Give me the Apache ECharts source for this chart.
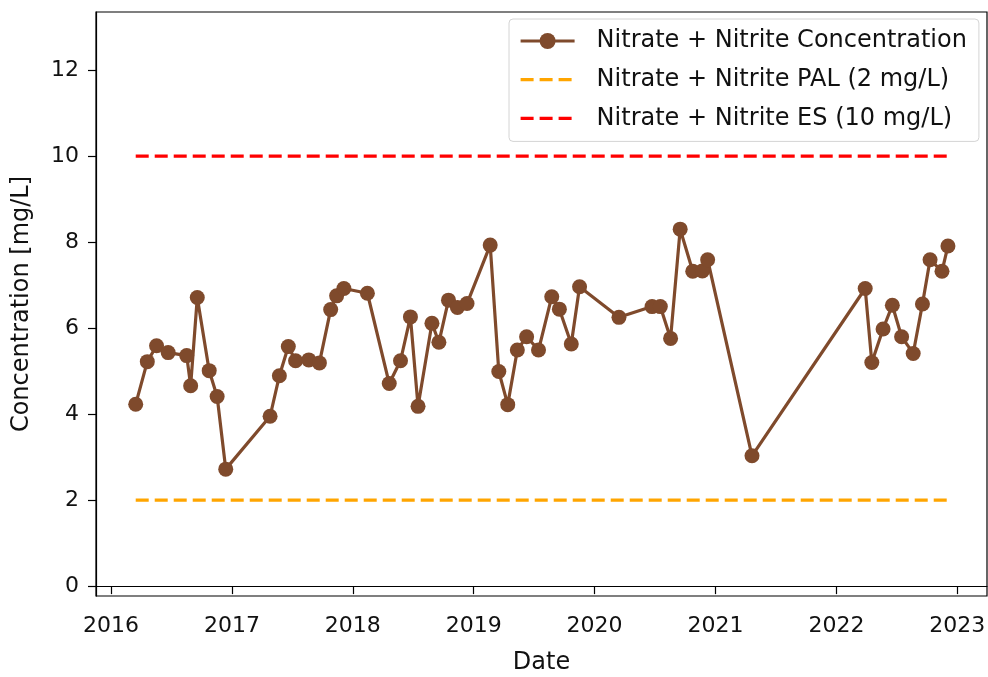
<!DOCTYPE html>
<html lang="en" style="height: 100%">
<head>
  <meta charset="utf-8">
</head>
<body style="height: 100%; margin: 0">
  <div id="container" style="width: 988px; height: 677px"></div>
  <script type="text/javascript" src="https://cdn.jsdelivr.net/npm/echarts@6/dist/echarts.min.js"></script>
  <script type="text/javascript">
    // sample dates and measured nitrate + nitrite (mg/L)
    var dates = [
      '2016-03-16', '2016-04-20', '2016-05-18', '2016-06-22', '2016-08-17', '2016-08-29',
      '2016-09-18', '2016-10-24', '2016-11-17', '2016-12-13', '2017-04-26', '2017-05-24',
      '2017-06-20', '2017-07-12', '2017-08-21', '2017-09-22', '2017-10-26', '2017-11-13',
      '2017-12-05', '2018-02-14', '2018-04-21', '2018-05-25', '2018-06-24', '2018-07-17',
      '2018-08-28', '2018-09-18', '2018-10-17', '2018-11-13', '2018-12-12', '2019-02-20',
      '2019-03-18', '2019-04-14', '2019-05-13', '2019-06-10', '2019-07-16', '2019-08-25',
      '2019-09-17', '2019-10-23', '2019-11-17', '2020-03-15', '2020-06-23', '2020-07-18',
      '2020-08-18', '2020-09-16', '2020-10-24', '2020-11-22', '2020-12-08', '2021-04-21',
      '2022-03-29', '2022-04-18', '2022-05-22', '2022-06-19', '2022-07-17', '2022-08-21',
      '2022-09-18', '2022-10-11', '2022-11-16', '2022-12-04'
    ];
    var concentration = [
      4.23, 5.22, 5.59, 5.43, 5.36, 4.66,
      6.71, 5.01, 4.41, 2.72, 3.95, 4.89,
      5.57, 5.24, 5.26, 5.19, 6.43, 6.75,
      6.92, 6.81, 4.71, 5.24, 6.26, 4.18,
      6.11, 5.67, 6.65, 6.48, 6.57, 7.93,
      4.99, 4.22, 5.49, 5.80, 5.49, 6.73,
      6.44, 5.63, 6.96, 6.25, 6.50, 6.50,
      5.76, 8.30, 7.32, 7.33, 7.59, 3.03,
      6.92, 5.20, 5.98, 6.53, 5.80, 5.41,
      6.56, 7.59, 7.32, 7.91
    ];
    var palLimit = 2;
    var esLimit = 10;
    var yTicks = [0, 2, 4, 6, 8, 10, 12];
    var seriesNames = [
      'Nitrate + Nitrite Concentration',
      'Nitrate + Nitrite PAL (2 mg/L)',
      'Nitrate + Nitrite ES (10 mg/L)'
    ];

    var font = 'DejaVu Sans';
    var brown = '#7f4a2c';
    var dom = document.getElementById('container');
    var myChart = echarts.init(dom, null, { renderer: 'canvas' });

    var first = dates[0];
    var last = dates[dates.length - 1];
    var YEAR = 365.25 * 24 * 3600 * 1000;
    var dash = [13, 6];

    var option = {
      animation: false,
      backgroundColor: '#fff',
      textStyle: { fontFamily: font },
      grid: {
        left: 96, right: 1, top: 12, bottom: 81,
        outerBoundsMode: 'none',
        containLabel: false,
        show: true, borderColor: '#000', borderWidth: 1.2,
        backgroundColor: 'transparent'
      },
      legend: {
        orient: 'vertical',
        left: 509, top: 19,
        padding: [10, 12, 11, 10],
        itemGap: 14.7,
        itemWidth: 54,
        itemHeight: 20,
        backgroundColor: '#fff',
        borderColor: '#d4d4d4',
        borderWidth: 1,
        borderRadius: 4,
        textStyle: { fontFamily: font, fontSize: 24, lineHeight: 24, color: '#111', padding: [0, 0, 0, 17] },
        data: [
          { name: seriesNames[0], lineStyle: { width: 3.2 } },
          { name: seriesNames[1], itemStyle: { opacity: 0 }, lineStyle: { width: 3.2, type: dash } },
          { name: seriesNames[2], itemStyle: { opacity: 0 }, lineStyle: { width: 3.2, type: dash } }
        ]
      },
      xAxis: {
        type: 'time',
        min: '2015-11-17',
        max: '2023-04-01',
        minInterval: YEAR,
        maxInterval: YEAR,
        name: 'Date',
        nameLocation: 'middle',
        nameGap: 55,
        nameTextStyle: { fontFamily: font, fontSize: 24, color: '#111', verticalAlign: 'top' },
        axisLine: { lineStyle: { color: '#000', width: 1.2 } },
        axisTick: { show: true, length: 8, lineStyle: { color: '#000', width: 1.2 } },
        axisLabel: {
          fontFamily: font, fontSize: 22, color: '#111', margin: 19,
          formatter: function (v) { return String(new Date(v).getFullYear()); }
        },
        splitLine: { show: false }
      },
      yAxis: {
        type: 'value',
        min: -0.23,
        max: 13.35,
        name: 'Concentration [mg/L]',
        nameLocation: 'middle',
        nameGap: 62,
        nameTextStyle: { fontFamily: font, fontSize: 24, color: '#111' },
        axisLine: { show: true, lineStyle: { color: '#000', width: 1.2 } },
        axisTick: { show: true, length: 8, customValues: yTicks, lineStyle: { color: '#000', width: 1.2 } },
        axisLabel: {
          fontFamily: font, fontSize: 22, color: '#111', margin: 17,
          customValues: yTicks
        },
        splitLine: { show: false }
      },
      series: [
        {
          name: seriesNames[0],
          type: 'line',
          data: dates.map(function (d, i) { return [d, concentration[i]]; }),
          symbol: 'circle',
          symbolSize: 15,
          showAllSymbol: true,
          lineStyle: { color: brown, width: 3.2 },
          itemStyle: { color: brown },
          z: 3
        },
        {
          name: seriesNames[1],
          type: 'line',
          data: [[first, palLimit], [last, palLimit]],
          symbol: 'none',
          lineStyle: { color: '#ffa500', width: 3.2, type: dash },
          itemStyle: { color: '#ffa500' }
        },
        {
          name: seriesNames[2],
          type: 'line',
          data: [[first, esLimit], [last, esLimit]],
          symbol: 'none',
          lineStyle: { color: '#ff0000', width: 3.2, type: dash },
          itemStyle: { color: '#ff0000' }
        }
      ]
    };

    myChart.setOption(option);
    window.addEventListener('resize', myChart.resize);
  </script>
</body>
</html>
